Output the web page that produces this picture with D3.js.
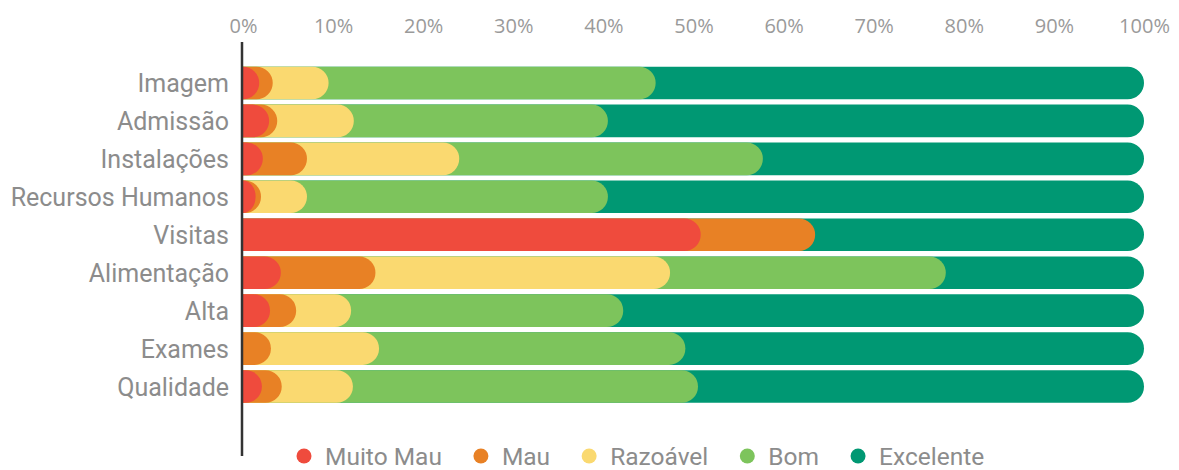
<!DOCTYPE html>
<html>
<head>
<meta charset="utf-8">
<script src="https://cdn.jsdelivr.net/npm/d3@7"></script>
<style>
  html, body { margin: 0; padding: 0; background: #fff; }
  #chart { width: 1179px; height: 470px; }
</style>
</head>
<body>
<div id="chart"></div>
<script>
var categories = ["Imagem", "Admissão", "Instalações", "Recursos Humanos", "Visitas",
                  "Alimentação", "Alta", "Exames", "Qualidade"];
var seriesNames = ["Muito Mau", "Mau", "Razoável", "Bom", "Excelente"];
var muitoMau  = [1.8, 2.9, 2.2, 1.4, 50.8, 4.2, 3.0, 0.0, 2.1];
var mau       = [1.5, 0.9, 4.9, 0.6, 12.7, 10.5, 2.9, 3.1, 2.2];
var razoavel  = [6.2, 8.5, 16.9, 5.1, 0.0, 32.7, 6.1, 12.0, 7.9];
var bom       = [36.3, 28.2, 33.7, 33.4, 0.0, 30.6, 30.2, 34.0, 38.3];
var excelente = [54.2, 59.5, 42.3, 59.5, 36.5, 22.0, 57.8, 50.9, 49.5];
var tickValues = [0, 10, 20, 30, 40, 50, 60, 70, 80, 90, 100];
var colors = ["#EF4B3D", "#E88125", "#FAD970", "#7DC45C", "#009873"];

var W = 1179, H = 470;
var labelFont = "Roboto, sans-serif";

// table built from the arrays above
var rows = categories.map(function(c, i) {
    return {
        cat: c,
        "Muito Mau": muitoMau[i],
        "Mau": mau[i],
        "Razoável": razoavel[i],
        "Bom": bom[i],
        "Excelente": excelente[i]
    };
});
var stacked = d3.stack().keys(seriesNames)(rows);

var svg = d3.select("#chart").append("svg")
    .attr("width", W)
    .attr("height", H);

var x = d3.scaleLinear().domain([0, 100]).range([243, 1144]);
var y = d3.scaleBand().domain(categories)
    .range([64, 405.5])
    .paddingInner(0.14)
    .paddingOuter(0.07);

// bar flat on the left, rounded on the right
function roundBar(x0, x1, y0, h) {
    var w = x1 - x0;
    var ry = h / 2;
    var rx = Math.min(ry, w);
    return "M" + x0 + "," + y0
        + "H" + (x1 - rx)
        + "A" + rx + "," + ry + " 0 0 1 " + x1 + "," + (y0 + ry)
        + "A" + rx + "," + ry + " 0 0 1 " + (x1 - rx) + "," + (y0 + h)
        + "H" + x0 + "Z";
}

// draw from the last series back, each one from 0 to its cumulative end
var layers = svg.append("g");
for (var s = stacked.length - 1; s >= 0; s--) {
    var layer = stacked[s];
    layers.append("g")
        .attr("fill", colors[s])
        .selectAll("path")
        .data(layer.filter(function(d) { return d[1] - d[0] > 0; }))
        .enter().append("path")
        .attr("d", function(d) {
            return roundBar(x(0), x(d[1]), y(d.data.cat), y.bandwidth());
        });
}

// top axis with percent labels
var xAxis = d3.axisTop(x)
    .tickValues(tickValues)
    .tickFormat(function(d) { return d + "%"; })
    .tickSize(0)
    .tickPadding(0);

var gx = svg.append("g")
    .attr("transform", "translate(0,33)")
    .call(xAxis);
gx.select(".domain").remove();
gx.selectAll("text")
    .attr("fill", "#9a9a9a")
    .attr("font-family", "'Open Sans', sans-serif")
    .attr("font-size", 20)
    .attr("dy", 0);

// category labels
var yAxis = d3.axisLeft(y).tickSize(0).tickPadding(14);
var gy = svg.append("g")
    .attr("transform", "translate(243,0)")
    .call(yAxis);
gy.select(".domain").remove();
gy.selectAll("text")
    .attr("fill", "#8c8c8c")
    .attr("font-family", labelFont)
    .attr("font-size", 25)
    .attr("dy", "0.36em");

// vertical axis line
svg.append("line")
    .attr("x1", 242).attr("x2", 242)
    .attr("y1", 42).attr("y2", 456)
    .attr("stroke", "#333")
    .attr("stroke-width", 2.5);

// legend
var legend = svg.append("g");
var items = legend.selectAll("g")
    .data(seriesNames)
    .enter().append("g");
items.append("circle")
    .attr("r", 7.5)
    .attr("cx", 0)
    .attr("cy", 0)
    .attr("fill", function(d, i) { return colors[i]; });
items.append("text")
    .attr("x", 21)
    .attr("dy", "0.36em")
    .attr("fill", "#8c8c8c")
    .attr("font-family", labelFont)
    .attr("font-size", 24.5)
    .text(function(d) { return d; });

var widths = [];
items.each(function() {
    widths.push(d3.select(this).select("text").node().getComputedTextLength());
});
var gap = 39;
var legendX = [];
var cx = 304;
widths.forEach(function(w) {
    legendX.push(cx);
    cx += 21 + w + gap;
});
items.attr("transform", function(d, i) {
    return "translate(" + legendX[i] + ",456)";
});
</script>
</body>
</html>
